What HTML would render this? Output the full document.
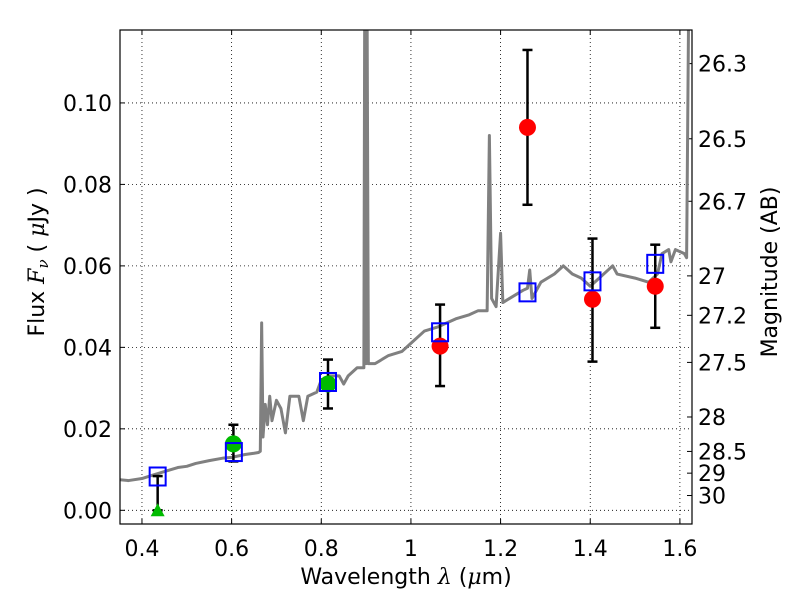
<!DOCTYPE html>
<html><head><meta charset="utf-8"><style>
body{margin:0;background:#fff}
svg text{font-family:"DejaVu Sans","Liberation Sans",sans-serif;font-size:22px;fill:#000}
</style></head><body>
<svg id="c" width="800" height="600" xmlns="http://www.w3.org/2000/svg" style="position:absolute;left:0;top:0"></svg>
<script>
const xTicks=[0.4,0.6,0.8,1.0,1.2,1.4,1.6];
const xTickLabels=["0.4","0.6","0.8","1","1.2","1.4","1.6"];
const yTicks=[0,0.02,0.04,0.06,0.08,0.10];
const yTickLabels=["0.00","0.02","0.04","0.06","0.08","0.10"];
const magTicks=[26.3,26.5,26.7,27,27.2,27.5,28,28.5,29,30];
const magLabels=["26.3","26.5","26.7","27","27.2","27.5","28","28.5","29","30"];
const specLam=[0.35,0.37,0.40,0.42,0.45,0.48,0.50,0.52,0.55,0.58,0.60,0.63,0.65,0.66,0.664,0.667,0.670,0.675,0.68,0.685,0.69,0.70,0.71,0.72,0.73,0.75,0.76,0.77,0.79,0.80,0.82,0.84,0.85,0.86,0.88,0.895,0.897,0.90,0.902,0.905,0.92,0.95,0.98,1.0,1.03,1.06,1.08,1.10,1.13,1.15,1.17,1.175,1.18,1.19,1.20,1.205,1.22,1.25,1.26,1.265,1.27,1.29,1.32,1.34,1.36,1.38,1.40,1.42,1.44,1.45,1.46,1.50,1.53,1.55,1.56,1.575,1.58,1.59,1.61,1.615,1.62];
const specFlux=[0.0075,0.0073,0.0078,0.0085,0.0095,0.0105,0.0108,0.0115,0.0122,0.0128,0.013,0.0137,0.014,0.0142,0.0145,0.046,0.018,0.026,0.021,0.028,0.022,0.027,0.025,0.019,0.028,0.028,0.022,0.028,0.029,0.032,0.033,0.033,0.031,0.033,0.035,0.035,0.13,0.036,0.13,0.036,0.036,0.038,0.039,0.041,0.044,0.045,0.046,0.047,0.048,0.049,0.049,0.092,0.052,0.050,0.068,0.051,0.052,0.054,0.0545,0.059,0.052,0.056,0.058,0.060,0.058,0.057,0.055,0.057,0.059,0.060,0.058,0.057,0.056,0.058,0.063,0.064,0.061,0.064,0.063,0.062,0.13];
const modelLam=[0.435,0.605,0.815,1.065,1.26,1.405,1.545];
const modelFlux=[0.0083,0.0143,0.0315,0.0437,0.0535,0.0562,0.0605];
const greenLam=[0.604,0.815];
const greenFlux=[0.0163,0.031];
const greenLo=[0.012,0.025];
const greenHi=[0.021,0.037];
const redLam=[1.065,1.26,1.405,1.545];
const redFlux=[0.0403,0.094,0.0518,0.055];
const redLo=[0.0305,0.075,0.0365,0.0448];
const redHi=[0.0505,0.113,0.0667,0.0652];
const limLam=[0.435];
const limFlux=[0.0];
const limHi=[0.0084];

const L=120,R=692,T=30,B=524,x0=0.351,x1=1.627,y0=-0.00336,y1=0.1179;
const X=v=>L+(v-x0)/(x1-x0)*(R-L);
const Y=v=>B-(v-y0)/(y1-y0)*(B-T);
const svg=document.getElementById('c');
const NS='http://www.w3.org/2000/svg';
function mk(t,a,p){const e=document.createElementNS(NS,t);for(const k in a)e.setAttribute(k,a[k]);(p||svg).appendChild(e);return e;}
const cp=mk('clipPath',{id:'cp'});mk('rect',{x:L,y:T,width:R-L,height:B-T},cp);
const grid=mk('g',{});


xTicks.forEach((v,i)=>{
 mk('line',{x1:X(v),x2:X(v),y1:T,y2:B,stroke:'#000','stroke-width':0.8,'stroke-dasharray':'1,3'},grid);
 mk('line',{x1:X(v),x2:X(v),y1:B,y2:B-5,stroke:'#000'});
 mk('line',{x1:X(v),x2:X(v),y1:T,y2:T+5,stroke:'#000'});
 const t=mk('text',{x:X(v),y:B+32,'text-anchor':'middle'});t.textContent=xTickLabels[i];
 
 
});
yTicks.forEach((v,i)=>{
 mk('line',{x1:L,x2:R,y1:Y(v),y2:Y(v),stroke:'#000','stroke-width':0.8,'stroke-dasharray':'1,3'},grid);
 mk('line',{x1:L,x2:L+5,y1:Y(v),y2:Y(v),stroke:'#000'});
 const t=mk('text',{x:L-8,y:Y(v)+8,'text-anchor':'end'});t.textContent=yTickLabels[i];
 
 
});
magTicks.forEach((m,i)=>{
 const f=Math.pow(10,(23.9-m)/2.5);const y=Y(f);
 mk('line',{x1:R,x2:R-5,y1:y,y2:y,stroke:'#000'});
 const t=mk('text',{x:R+6,y:y+8});t.textContent=magLabels[i];
 
 
});
const g=mk('g',{'clip-path':'url(#cp)'});
const sp=mk('polyline',{points:specLam.map((l,i)=>X(l)+','+Y(specFlux[i])).join(' '),fill:'none',stroke:'#808080','stroke-width':3,'stroke-linejoin':'round'},g);


function eb(x,lo,hi){mk('line',{x1:X(x),x2:X(x),y1:Y(lo),y2:Y(hi),stroke:'#000','stroke-width':2.5},g);
 [lo,hi].forEach(v=>mk('line',{x1:X(x)-5,x2:X(x)+5,y1:Y(v),y2:Y(v),stroke:'#000','stroke-width':2.5},g));}
greenLam.forEach((l,i)=>{eb(l,greenLo[i],greenHi[i]);const c=mk('circle',{cx:X(l),cy:Y(greenFlux[i]),r:8.5,fill:'#00bb00'},g);
 
 });
redLam.forEach((l,i)=>{eb(l,redLo[i],redHi[i]);const c=mk('circle',{cx:X(l),cy:Y(redFlux[i]),r:8.5,fill:'#ff0000'},g);
 
 });
limLam.forEach((l,i)=>{eb(l,limFlux[i],limHi[i]);const x=X(l),y=Y(limFlux[i]);
 const p=mk('polygon',{points:`${x-7},${y+6} ${x+7},${y+6} ${x},${y-7}`,fill:'#00bb00'},g);
 
 });
modelLam.forEach((l,i)=>{const r=mk('rect',{x:X(l)-8,y:Y(modelFlux[i])-9,width:16,height:18,fill:'none',stroke:'#0000ff','stroke-width':2},g);
 
 });
const fr=mk('rect',{x:L,y:T,width:R-L,height:B-T,fill:'none',stroke:'#000','stroke-width':1.2});


</script>
<div style="position:absolute;left:0;top:0;width:800px;height:600px;pointer-events:none">
<svg width="800" height="600" xmlns="http://www.w3.org/2000/svg">
<text x="406" y="584" text-anchor="middle" style="font-size:22px">Wavelength  <tspan font-style="italic" font-family="DejaVu Serif">λ</tspan> (<tspan font-style="italic" font-family="DejaVu Serif">μ</tspan>m)</text>
<text transform="translate(44,262) rotate(-90)" text-anchor="middle" style="font-size:22px">Flux  <tspan font-style="italic" font-family="DejaVu Serif">F<tspan font-size="15" dy="4">ν</tspan></tspan><tspan dy="-4">  (  </tspan><tspan font-style="italic" font-family="DejaVu Serif">μ</tspan>Jy )</text>
<text transform="translate(777,272) rotate(-90)" text-anchor="middle" style="font-size:22px">Magnitude (AB)</text>
</svg></div>
</body></html>
